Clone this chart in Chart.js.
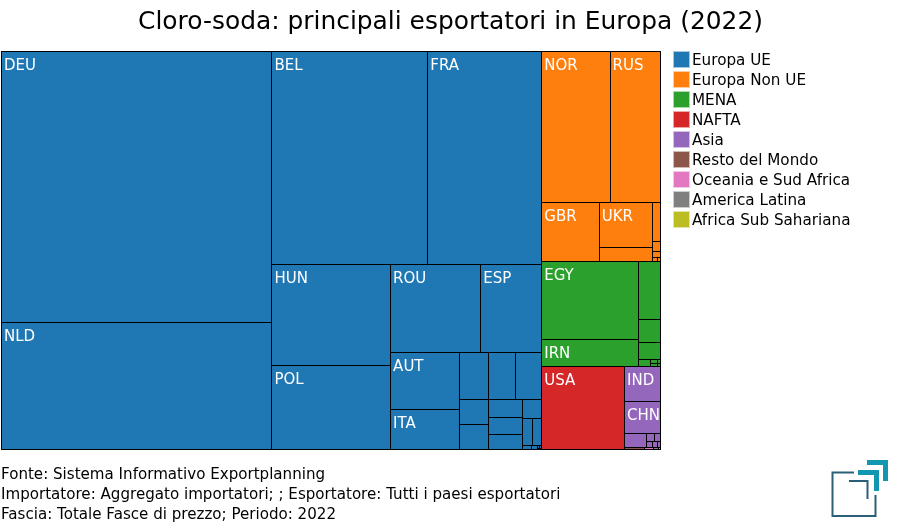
<!DOCTYPE html>
<html lang="it">
<head>
    <meta charset="UTF-8">
    <title>Cloro-soda: principali esportatori in Europa (2022)</title>
    <script src="https://cdn.jsdelivr.net/npm/chart.js@4"></script>
    <style>
        html, body { margin: 0; background: #fff; }
        #page { position: relative; width: 900px; height: 530px; overflow: hidden; font-family: "DejaVu Sans", sans-serif; }
        #map { position: absolute; left: 0; top: 0; }
        #legend { position: absolute; left: 673px; top: 49.5px; font-size: 15.2px; color: #000; }
        .legend-item { display: flex; align-items: center; height: 20px; white-space: nowrap; }
        .legend-box { width: 15px; height: 15px; margin-right: 2px; border: 1px solid rgba(255, 255, 255, 0.6); outline: 0; }
        #logo { position: absolute; left: 820px; top: 450px; }
    </style>
</head>
<body>
<div id="page">
    <canvas id="map" width="900" height="530"></canvas>
    <div id="legend"></div>
    <svg id="logo" width="80" height="75" viewBox="820 450 80 75" fill="none">
        <path d="M854 472.5H832.5V516H875.5V495" stroke="#2a5f78" stroke-width="2"/>
        <path d="M849 481H867.5V499" stroke="#2a5f78" stroke-width="2"/>
        <path d="M867 462.5H885.5V481" stroke="#1297b2" stroke-width="5"/>
        <path d="M858 472.5H876.5V491" stroke="#1297b2" stroke-width="5"/>
    </svg>
</div>
<script>
// dati (valori relativi, stimati dalle aree)
const regions = ['Europa UE', 'Europa Non UE', 'MENA', 'NAFTA', 'Asia', 'Resto del Mondo', 'Oceania e Sud Africa', 'America Latina', 'Africa Sub Sahariana'];
const regionColors = ['#1f77b4', '#ff7f0e', '#2ca02c', '#d62728', '#9467bd', '#8c564b', '#e377c2', '#7f7f7f', '#bcbd22'];

const labelsUE = ['DEU', 'NLD', 'BEL', 'FRA', 'HUN', 'POL', 'ROU', 'ESP', 'AUT', 'ITA'];
const valuesUE = [73441, 34417, 33228, 24282, 12019, 9996, 7920, 5368, 4002, 2760, 1363, 1255, 1255, 715, 710, 644, 554, 533, 376, 260, 247, 38, 28, 8, 6, 4];
const labelsNonUE = ['NOR', 'RUS', 'GBR', 'UKR'];
const valuesNonUE = [10344, 7626, 3393, 2390, 760, 310, 80, 50, 17, 12];
const labelsMena = ['EGY', 'IRN'];
const valuesMena = [7615, 2570, 1287, 506, 363, 84, 30, 20, 12, 8];
const labelsNafta = ['USA'];
const valuesNafta = [6889];
const labelsAsia = ['IND', 'CHN'];
const valuesAsia = [1242, 1152, 319, 72, 50, 31, 29, 16];
const valuesResto = [40];
const valuesOceania = [18];
const valuesLatina = [10];
const valuesAfrica = [4];

const regionLabels = [labelsUE, labelsNonUE, labelsMena, labelsNafta, labelsAsia, [], [], [], []];
const regionValues = [valuesUE, valuesNonUE, valuesMena, valuesNafta, valuesAsia, valuesResto, valuesOceania, valuesLatina, valuesAfrica];

const footerLines = [
    'Fonte: Sistema Informativo Exportplanning',
    'Importatore: Aggregato importatori; ; Esportatore: Tutti i paesi esportatori',
    'Fascia: Totale Fasce di prezzo; Periodo: 2022'
];

const MAP_W = 660;
const MAP_H = 398;
const PHI = (1 + Math.sqrt(5)) / 2;

const sum = arr => arr.reduce((a, b) => a + b, 0);

// squarified treemap with the golden target ratio
function squarify(areas, box) {
    let { x, y, w, h } = box;
    let left = sum(areas);
    const out = [];
    let i = 0;
    while (i < areas.length) {
        const alpha = Math.max(h / w, w / h) / (left * PHI);
        const ratio = row => {
            const beta = sum(row) * sum(row) * alpha;
            return Math.max(Math.max(...row) / beta, beta / Math.min(...row));
        };
        const row = [areas[i]];
        let j = i + 1;
        while (j < areas.length && ratio([...row, areas[j]]) <= ratio(row)) {
            row.push(areas[j]);
            j++;
        }
        const s = sum(row);
        if (w >= h) {
            const cw = s / h;
            let cy = y;
            row.forEach(a => { out.push({ x0: x, y0: cy, x1: x + cw, y1: cy + a / cw }); cy += a / cw; });
            x += cw; w -= cw;
        } else {
            const ch = s / w;
            let cx = x;
            row.forEach(a => { out.push({ x0: cx, y0: y, x1: cx + a / ch, y1: y + ch }); cx += a / ch; });
            y += ch; h -= ch;
        }
        left -= s;
        i = j;
    }
    return out;
}

class TreemapController extends Chart.DatasetController {
    update(mode) {
        const cells = this._cachedMeta.data;
        this.updateElements(cells, 0, cells.length, mode);
    }
    updateElements(cells, start, count, mode) {
        const xs = this.chart.scales.x;
        const ys = this.chart.scales.y;
        const data = this.getDataset().data;
        for (let i = start; i < start + count; i++) {
            const left = Math.round(xs.getPixelForValue(data[i].x0));
            const right = Math.round(xs.getPixelForValue(data[i].x1));
            const top = Math.round(ys.getPixelForValue(data[i].y0));
            const bottom = Math.round(ys.getPixelForValue(data[i].y1));
            // snapped, and one pixel over so neighbours share a single line
            this.updateElement(cells[i], i, {
                x: (left + right + 1) / 2,
                y: top,
                base: bottom + 1,
                width: right - left + 1,
                height: bottom - top + 1,
                horizontal: false,
                enableBorderRadius: false,
                inflateAmount: 0,
                borderSkipped: { top: false, bottom: false, left: false, right: false },
                options: this.resolveDataElementOptions(i, mode)
            }, mode);
        }
    }
    draw() {
        super.draw();
        const ctx = this.chart.ctx;
        const xs = this.chart.scales.x;
        const ys = this.chart.scales.y;
        ctx.save();
        ctx.fillStyle = '#fff';
        ctx.font = '15px "DejaVu Sans"';
        this.getDataset().data.forEach(c => {
            if (c.label) ctx.fillText(c.label, xs.getPixelForValue(c.x0) + 3, ys.getPixelForValue(c.y0) + 19);
        });
        ctx.restore();
    }
}
TreemapController.id = 'treemap';
TreemapController.defaults = { dataElementType: 'bar' };
Chart.register(TreemapController);

const scaleFactor = MAP_W * MAP_H / sum(regionValues.map(sum));
const regionBoxes = squarify(regionValues.map(v => sum(v) * scaleFactor), { x: 0, y: 0, w: MAP_W, h: MAP_H });

const datasets = regions.map((name, r) => {
    const b = regionBoxes[r];
    const cells = squarify(regionValues[r].map(v => v * scaleFactor), { x: b.x0, y: b.y0, w: b.x1 - b.x0, h: b.y1 - b.y0 });
    cells.forEach((c, i) => { c.label = regionLabels[r][i] || ''; });
    return {
        label: name,
        data: cells,
        backgroundColor: regionColors[r],
        borderColor: '#000',
        borderWidth: 1,
        borderRadius: 0,
        clip: false
    };
});

new Chart(document.getElementById('map'), {
    type: 'treemap',
    data: { datasets },
    options: {
        responsive: false,
        animation: false,
        events: [],
        parsing: false,
        normalized: true,
        layout: { padding: { left: 1 } },
        scales: {
            x: { type: 'linear', min: 0, max: MAP_W, display: false },
            y: {
                type: 'linear', min: 0, max: MAP_H, reverse: true, position: 'right',
                ticks: { display: false }, grid: { display: false }, border: { display: false },
                afterFit(scale) { scale.width = 240; } // room for the html legend
            }
        },
        plugins: {
            legend: { display: false },
            tooltip: { enabled: false },
            title: {
                display: true,
                text: 'Cloro-soda: principali esportatori in Europa (2022)',
                color: '#000',
                font: { family: '"DejaVu Sans"', size: 24.9, weight: 'normal', lineHeight: 1.2 },
                padding: { top: 8, bottom: 13 }
            },
            subtitle: {
                display: true,
                position: 'bottom',
                align: 'start',
                text: footerLines,
                color: '#000',
                font: { family: '"DejaVu Sans"', size: 15.1, weight: 'normal', lineHeight: 20 / 15.1 },
                padding: { top: 16, bottom: 5 }
            }
        }
    }
});

const legendBox = document.getElementById('legend');
regions.forEach((name, r) => {
    const item = document.createElement('div');
    item.className = 'legend-item';
    const box = document.createElement('span');
    box.className = 'legend-box';
    box.style.background = regionColors[r];
    const text = document.createElement('span');
    text.textContent = name;
    item.append(box, text);
    legendBox.appendChild(item);
});
</script>
</body>
</html>
